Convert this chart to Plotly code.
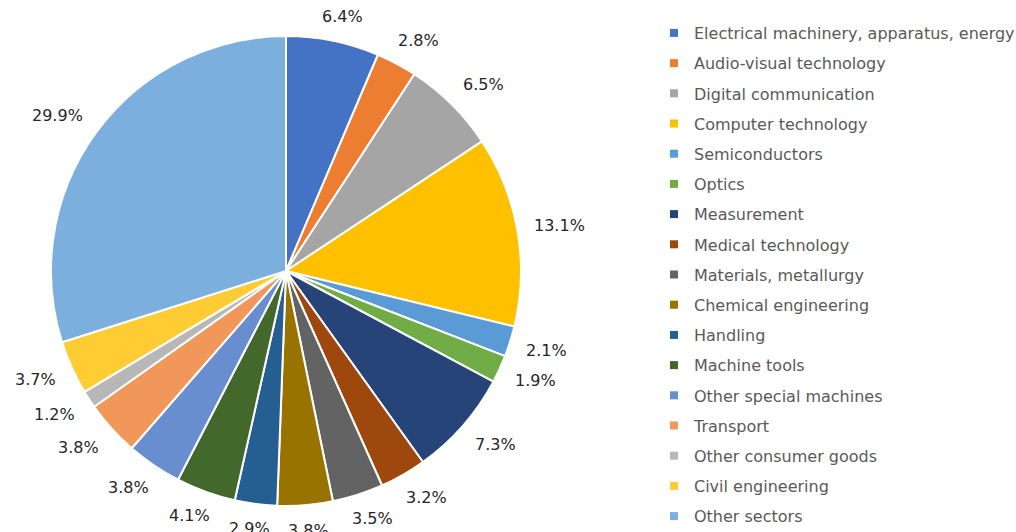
import math
import plotly.graph_objects as go

categories = [
    "Electrical machinery, apparatus, energy", "Audio-visual technology",
    "Digital communication", "Computer technology", "Semiconductors", "Optics",
    "Measurement", "Medical technology", "Materials, metallurgy",
    "Chemical engineering", "Handling", "Machine tools", "Other special machines",
    "Transport", "Other consumer goods", "Civil engineering", "Other sectors",
]
shares = [6.4, 2.8, 6.5, 13.1, 2.1, 1.9, 7.3, 3.2, 3.5, 3.8, 2.9, 4.1, 3.8, 3.8, 1.2, 3.7, 29.9]
colors = [
    "#4472C4", "#ED7D31", "#A5A5A5", "#FFC000", "#5B9BD5", "#70AD47",
    "#264478", "#9E480E", "#636363", "#997300", "#255E91", "#43682B",
    "#698ED0", "#F1975A", "#B7B7B7", "#FFCD33", "#7CAFDD",
]

W, H = 1016, 532
cx, cy, R = 286, 271, 235
FONT = "DejaVu Sans"

fig = go.Figure()
fig.add_trace(go.Pie(
    labels=categories, values=shares, sort=False, direction="clockwise",
    rotation=0, marker=dict(colors=colors, line=dict(color="white", width=2)),
    textinfo="none", hoverinfo="label+percent", showlegend=False,
    domain=dict(x=[(cx - R) / W, (cx + R) / W], y=[1 - (cy + R) / H, 1 - (cy - R) / H]),
))


def clamp(v):
    return max(-1.0, min(1.0, v))


# data labels placed just outside each slice, from its mid-angle
total = sum(shares)
cum = 0.0
for v in shares:
    mid = (cum + v / 2) / total * 2 * math.pi
    cum += v
    s, c = math.sin(mid), math.cos(mid)
    txt = f"{v:.1f}%"
    tw = 10.2 * (len(txt) - 2) + 5.1 + 15.2
    th = 16
    r0 = 252
    px = cx + r0 * s + tw / 2 * clamp(s / 0.7)
    py = cy - r0 * c - th / 2 * clamp(c / 0.7)
    fig.add_annotation(
        x=px / W, y=1 - py / H, xref="paper", yref="paper",
        text=txt, showarrow=False, xanchor="center", yanchor="middle",
        font=dict(family=FONT, size=16, color="#262626"),
    )

# legend entries
for name, col in zip(categories, colors):
    fig.add_trace(go.Scatter(
        x=[None], y=[None], mode="markers", name=name, legendgroup=name,
        marker=dict(symbol="square", size=8, color=col),
    ))

fig.update_layout(
    width=W, height=H, margin=dict(l=0, r=0, t=0, b=0, autoexpand=False),
    paper_bgcolor="white", plot_bgcolor="white",
    xaxis=dict(visible=False), yaxis=dict(visible=False),
    legend=dict(
        x=654 / W, y=1 - 16 / H, xanchor="left", yanchor="top",
        font=dict(family=FONT, size=16, color="#595959"),
        tracegroupgap=6.4, itemclick=False, bgcolor="rgba(0,0,0,0)",
    ),
    showlegend=True,
)

fig.write_html("out.html", config={"displayModeBar": False},
               post_script="document.body.style.margin='0';")
